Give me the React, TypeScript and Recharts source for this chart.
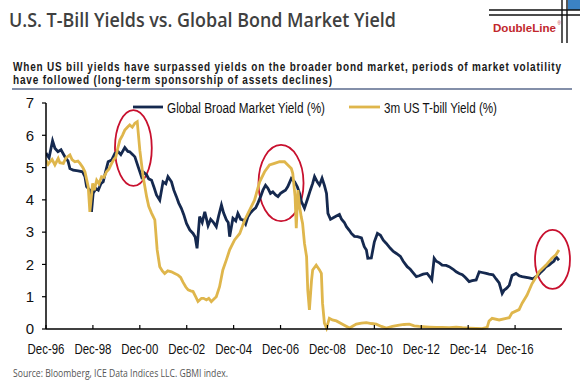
import React from 'react';
import { LineChart, Line, XAxis, YAxis, ReferenceArea } from 'recharts';

// Global Broad Market Yield (%)
const gbmiDates = [
  1996.92, 1997.05, 1997.2, 1997.3, 1997.43, 1997.56, 1997.73, 1997.86, 1997.94, 1998.08,
  1998.29, 1998.48, 1998.58, 1998.65, 1998.79, 1998.86, 1998.93, 1999.05, 1999.15, 1999.26,
  1999.36, 1999.47, 1999.57, 1999.72, 1999.86, 2000.0, 2000.11, 2000.28, 2000.41, 2000.49,
  2000.62, 2000.71, 2000.85, 2000.99, 2001.09, 2001.21, 2001.3, 2001.42, 2001.52, 2001.63,
  2001.77, 2001.91, 2002.03, 2002.12, 2002.27, 2002.37, 2002.48, 2002.58, 2002.69, 2002.79,
  2002.91, 2003.05, 2003.19, 2003.28, 2003.36, 2003.47, 2003.58, 2003.69, 2003.83, 2003.94,
  2004.04, 2004.18, 2004.28, 2004.4, 2004.49, 2004.61, 2004.69, 2004.75, 2004.89, 2005.01,
  2005.1, 2005.22, 2005.32, 2005.43, 2005.53, 2005.64, 2005.74, 2005.86, 2005.95, 2006.07,
  2006.17, 2006.28, 2006.38, 2006.49, 2006.59, 2006.71, 2006.81, 2006.92, 2007.02, 2007.13,
  2007.23, 2007.38, 2007.52, 2007.64, 2007.73, 2007.81, 2007.94, 2008.08, 2008.19, 2008.29,
  2008.37, 2008.49, 2008.58, 2008.69, 2008.79, 2008.88, 2008.94, 2009.05, 2009.13, 2009.3,
  2009.43, 2009.52, 2009.64, 2009.73, 2009.86, 2009.94, 2010.07, 2010.2, 2010.37, 2010.49,
  2010.58, 2010.64, 2010.79, 2010.92, 2011.05, 2011.18, 2011.3, 2011.43, 2011.6, 2011.73,
  2011.86, 2012.03, 2012.15, 2012.32, 2012.45, 2012.54, 2012.71, 2012.83, 2013.0, 2013.17,
  2013.3, 2013.37, 2013.47, 2013.56, 2013.69, 2013.81, 2013.98, 2014.11, 2014.28, 2014.41,
  2014.54, 2014.67, 2014.79, 2014.96, 2015.09, 2015.26, 2015.39, 2015.52, 2015.69, 2015.81,
  2015.98, 2016.11, 2016.24, 2016.37, 2016.45, 2016.54, 2016.67, 2016.79, 2016.96, 2017.09,
  2017.22, 2017.39, 2017.52, 2017.69, 2017.81, 2017.94, 2018.03, 2018.15, 2018.24, 2018.37,
  2018.45, 2018.58, 2018.66, 2018.79,
];
const gbmiYield = [
  5.45, 5.3, 5.83, 5.6, 5.49, 5.55, 5.33, 5.2, 4.97, 4.92,
  4.9, 4.87, 4.72, 4.41, 4.3, 3.63, 4.2, 4.35, 4.3, 4.5,
  4.56, 4.9, 5.18, 5.23, 5.44, 5.49, 5.4, 5.62, 5.5, 5.49,
  5.4, 5.33, 5.02, 4.72, 4.85, 4.77, 4.65, 4.61, 4.4, 4.15,
  3.99, 4.56, 4.5, 4.72, 4.56, 4.3, 4.1, 3.9, 3.74, 3.55,
  3.27, 3.07, 2.96, 2.85, 2.5, 3.48, 3.3, 3.63, 3.2, 3.4,
  3.32, 3.17, 3.5, 3.84, 3.6, 3.38, 3.3, 2.86, 3.43, 3.35,
  3.58, 3.4, 3.38, 3.25, 3.48, 3.6, 3.68, 3.75, 3.89, 4.1,
  4.3, 4.45, 4.36, 4.2, 4.25, 4.15, 4.1, 4.2, 4.25, 4.3,
  4.41, 4.66, 4.56, 4.4, 4.2, 3.95, 3.74, 4.05, 4.3, 4.51,
  4.72, 4.55, 4.46, 4.67, 4.45, 4.2, 3.58, 3.4, 3.43, 3.5,
  3.55, 3.4, 3.3, 3.17, 3.05, 2.96, 2.87, 2.86, 2.82, 2.55,
  2.45, 2.19, 2.2, 2.7, 2.96, 2.9, 2.75, 2.65, 2.5, 2.4,
  2.34, 2.25, 2.1, 1.93, 1.85, 1.77, 1.62, 1.65, 1.7, 1.72,
  1.6, 1.52, 2.19, 2.1, 2.05, 1.98, 1.97, 1.93, 1.85, 1.77,
  1.72, 1.68, 1.6, 1.47, 1.5, 1.52, 1.77, 1.75, 1.72, 1.7,
  1.68, 1.55, 1.43, 1.1, 1.2, 1.25, 1.35, 1.66, 1.72, 1.65,
  1.62, 1.6, 1.58, 1.55, 1.62, 1.7, 1.77, 1.85, 1.93, 1.98,
  2.03, 2.1, 2.24, 2.13,
];

// 3m US T-bill Yield (%)
const billDates = [
  1996.92, 1997.01, 1997.09, 1997.18, 1997.3, 1997.44, 1997.51, 1997.66, 1997.77, 1997.94,
  1998.03, 1998.15, 1998.28, 1998.37, 1998.49, 1998.58, 1998.72, 1998.79, 1998.91, 1998.98,
  1999.08, 1999.18, 1999.29, 1999.39, 1999.5, 1999.6, 1999.72, 1999.81, 1999.9, 1999.98,
  2000.07, 2000.18, 2000.28, 2000.39, 2000.49, 2000.6, 2000.71, 2000.81, 2000.92, 2001.06,
  2001.21, 2001.3, 2001.42, 2001.56, 2001.66, 2001.77, 2001.88, 2001.98, 2002.11, 2002.27,
  2002.41, 2002.55, 2002.66, 2002.76, 2002.88, 2002.98, 2003.09, 2003.19, 2003.3, 2003.4,
  2003.55, 2003.64, 2003.76, 2003.86, 2003.97, 2004.07, 2004.18, 2004.32, 2004.46, 2004.61,
  2004.75, 2004.96, 2005.18, 2005.39, 2005.6, 2005.81, 2006.03, 2006.24, 2006.45, 2006.66,
  2006.88, 2007.09, 2007.23, 2007.38, 2007.44, 2007.54, 2007.59, 2007.66, 2007.73, 2007.8,
  2007.86, 2007.94, 2008.03, 2008.08, 2008.15, 2008.24, 2008.29, 2008.44, 2008.58, 2008.66,
  2008.71, 2008.79, 2008.88, 2009.0, 2009.13, 2009.3, 2009.56, 2009.86, 2010.15, 2010.37,
  2010.58, 2010.79, 2011.0, 2011.22, 2011.43, 2011.69, 2011.98, 2012.19, 2012.41, 2012.62,
  2012.83, 2013.26, 2013.56, 2013.81, 2014.11, 2014.41, 2014.67, 2014.96, 2015.26, 2015.52,
  2015.73, 2015.81, 2015.94, 2016.24, 2016.54, 2016.67, 2016.79, 2017.09, 2017.22, 2017.43,
  2017.64, 2017.81, 2017.94, 2018.24, 2018.49, 2018.66, 2018.79,
];
const billYield = [
  5.23, 5.1, 5.18, 5.25, 5.08, 5.28, 5.15, 5.13, 5.3, 5.39,
  5.25, 5.18, 5.2, 5.13, 5.0, 4.87, 4.41, 3.63, 4.51, 4.3,
  4.61, 4.5, 4.72, 4.7, 4.87, 4.95, 5.13, 5.25, 5.33, 5.6,
  5.85, 6.0, 6.16, 6.25, 6.32, 6.25, 6.37, 6.42, 5.54, 4.72,
  4.1, 3.8, 3.59, 3.38, 2.45, 1.93, 1.8, 1.72, 1.8, 1.77,
  1.72, 1.67, 1.6, 1.45, 1.3, 1.21, 1.18, 1.16, 1.0, 0.85,
  0.95, 0.95, 0.9, 0.95, 0.85, 0.92, 1.0, 1.31, 1.83, 2.14,
  2.45, 2.76, 2.96, 3.37, 3.68, 3.99, 4.56, 4.87, 5.08, 5.13,
  5.18, 5.18, 5.08, 4.97, 4.82, 4.1, 3.12, 4.3, 3.8, 3.48,
  3.27, 2.65, 2.24, 1.21, 0.59, 1.5, 1.83, 1.98, 1.83, 1.72,
  0.8, 0.18, 0.03, 0.33, 0.28, 0.25, 0.15, 0.03, 0.15, 0.18,
  0.2, 0.17, 0.15, 0.08, 0.03, 0.08, 0.12, 0.14, 0.15, 0.1,
  0.08, 0.06, 0.05, 0.05, 0.04, 0.06, 0.04, 0.03, 0.02, 0.01,
  0.05, 0.25, 0.33, 0.28, 0.33, 0.35, 0.5, 0.6, 0.8, 1.05,
  1.4, 1.6, 1.77, 1.98, 2.19, 2.3, 2.45,
];

const xTickDates = [1996.92, 1998.92, 2000.92, 2002.92, 2004.92, 2006.92, 2008.92, 2010.92, 2012.92, 2014.92, 2016.92];
const xTickLabels = ['Dec-96', 'Dec-98', 'Dec-00', 'Dec-02', 'Dec-04', 'Dec-06', 'Dec-08', 'Dec-10', 'Dec-12', 'Dec-14', 'Dec-16'];
const yTicks = [0, 1, 2, 3, 4, 5, 6, 7];

// red call-out ellipses: date span and yield span
const calloutFrom = [1999.86, 2005.98, 2017.77];
const calloutTo = [2001.43, 2007.9, 2019.26];
const calloutLow = [4.43, 3.34, 1.24];
const calloutHigh = [6.78, 5.7, 3.07];

const NAVY = '#15294f';
const GOLD = '#dfb64c';
const RED = '#c8102e';
const NARROW = "'Liberation Sans', Arial, sans-serif";
const OPEN = "'Open Sans', sans-serif";

const gbmiData = gbmiDates.map((t, i) => ({ t, v: gbmiYield[i] }));
const billData = billDates.map((t, i) => ({ t, v: billYield[i] }));

const XTick = (props: any) => {
  const { x, y, payload } = props;
  const label = xTickLabels[xTickDates.indexOf(payload.value)];
  return (
    <g>
      <line x1={x} x2={x} y1={y} y2={y - 4} stroke="#000" strokeWidth={1.2} />
      <text x={x} y={y + 25} textAnchor="middle" fontSize={15} fontFamily={NARROW} fill="#111"
        textLength={37} lengthAdjust="spacingAndGlyphs">{label}</text>
    </g>
  );
};

const Ellipse = (props: any) => {
  const { x, y, width, height } = props;
  return (
    <ellipse cx={x + width / 2} cy={y + height / 2} rx={Math.abs(width) / 2} ry={Math.abs(height) / 2}
      fill="none" stroke={RED} strokeWidth={1.8} />
  );
};

const App = () => {
  // the subtitle is set in a condensed bold face: squeeze it horizontally
  const squeeze = 0.8;
  return (
    <div style={{ position: 'absolute', left: 0, top: 0, width: 580, height: 384, background: '#fff' }}>
      <LineChart width={580} height={384} margin={{ top: 103, right: 18, bottom: 25, left: 16 }}
        style={{ fontFamily: NARROW }}>
        <XAxis type="number" dataKey="t" domain={[1996.92, 2018.92]} ticks={xTickDates} interval={0}
          allowDataOverflow height={30} tickSize={0} tickMargin={0} tickLine={false}
          axisLine={{ stroke: '#000', strokeWidth: 1.5 }} tick={<XTick />} />
        <YAxis type="number" domain={[0, 7]} ticks={yTicks} interval={0} width={30}
          tickSize={4} tickMargin={8} tickLine={{ stroke: '#000', strokeWidth: 1.2 }}
          axisLine={{ stroke: '#000', strokeWidth: 1.5 }}
          tick={{ fontSize: 15, fill: '#111', fontFamily: NARROW }} />
        <Line data={gbmiData} dataKey="v" type="linear" stroke={NAVY} strokeWidth={2.8} dot={false}
          isAnimationActive={false} name="Global Broad Market Yield (%)" />
        <Line data={billData} dataKey="v" type="linear" stroke={GOLD} strokeWidth={2.8} dot={false}
          isAnimationActive={false} name="3m US T-bill Yield (%)" />
        {calloutFrom.map((from, i) => (
          <ReferenceArea key={i} x1={from} x2={calloutTo[i]} y1={calloutLow[i]} y2={calloutHigh[i]}
            ifOverflow="visible" shape={<Ellipse />} />
        ))}
      </LineChart>

      <svg width={580} height={384} style={{ position: 'absolute', left: 0, top: 0, pointerEvents: 'none' }}>
        {/* title */}
        <text x={9} y={27} fontFamily={OPEN} fontWeight={600} fontSize={20} fill="#404040"
          textLength={387} lengthAdjust="spacingAndGlyphs">U.S. T-Bill Yields vs. Global Bond Market Yield</text>

        {/* DoubleLine logo */}
        <rect x={568} y={0} width={12} height={10} fill="#3b82c4" />
        <line x1={489} x2={580} y1={10} y2={10} stroke="#111" strokeWidth={1.4} />
        <line x1={489} x2={580} y1={15} y2={15} stroke="#111" strokeWidth={1.4} />
        <line x1={562} x2={562} y1={0} y2={43} stroke="#111" strokeWidth={1.4} />
        <line x1={567} x2={567} y1={0} y2={43} stroke="#111" strokeWidth={1.4} />
        <text x={493} y={32} fontFamily={NARROW} fontWeight={700} fontSize={11.5} fill="#c1272d"
          textLength={63} lengthAdjust="spacingAndGlyphs">DoubleLine</text>
        <text x={557.5} y={25} fontFamily={NARROW} fontSize={4.5} fill="#c1272d">®</text>

        {/* subtitle */}
        <text transform={`translate(13,70.5) scale(${squeeze},1)`} fontFamily={NARROW} fontWeight={700}
          fontSize={12.5} fill="#1a1a1a" lengthAdjust="spacingAndGlyphs">
          <tspan x={0} y={0} textLength={548 / squeeze}>
            When US bill yields have surpassed yields on the broader bond market, periods of market volatility
          </tspan>
          <tspan x={0} y={14} textLength={319 / squeeze}>
            have followed (long-term sponsorship of assets declines)
          </tspan>
        </text>
        <line x1={12} x2={572} y1={89} y2={89} stroke="#5a6a8c" strokeWidth={1.5} />

        {/* legend */}
        <line x1={133} x2={163} y1={107} y2={107} stroke={NAVY} strokeWidth={2.8} />
        <text x={167} y={112.5} fontFamily={NARROW} fontSize={14} fill="#111"
          textLength={158} lengthAdjust="spacingAndGlyphs">Global Broad Market Yield (%)</text>
        <line x1={349} x2={380} y1={107} y2={107} stroke={GOLD} strokeWidth={2.8} />
        <text x={384} y={112.5} fontFamily={NARROW} fontSize={14} fill="#111"
          textLength={113} lengthAdjust="spacingAndGlyphs">3m US T-bill Yield (%)</text>

        {/* source */}
        <text x={13} y={377} fontFamily={OPEN} fontSize={10} fill="#555"
          textLength={215} lengthAdjust="spacingAndGlyphs">Source:  Bloomberg, ICE Data Indices LLC. GBMI index.</text>
      </svg>
    </div>
  );
};

export default App;
